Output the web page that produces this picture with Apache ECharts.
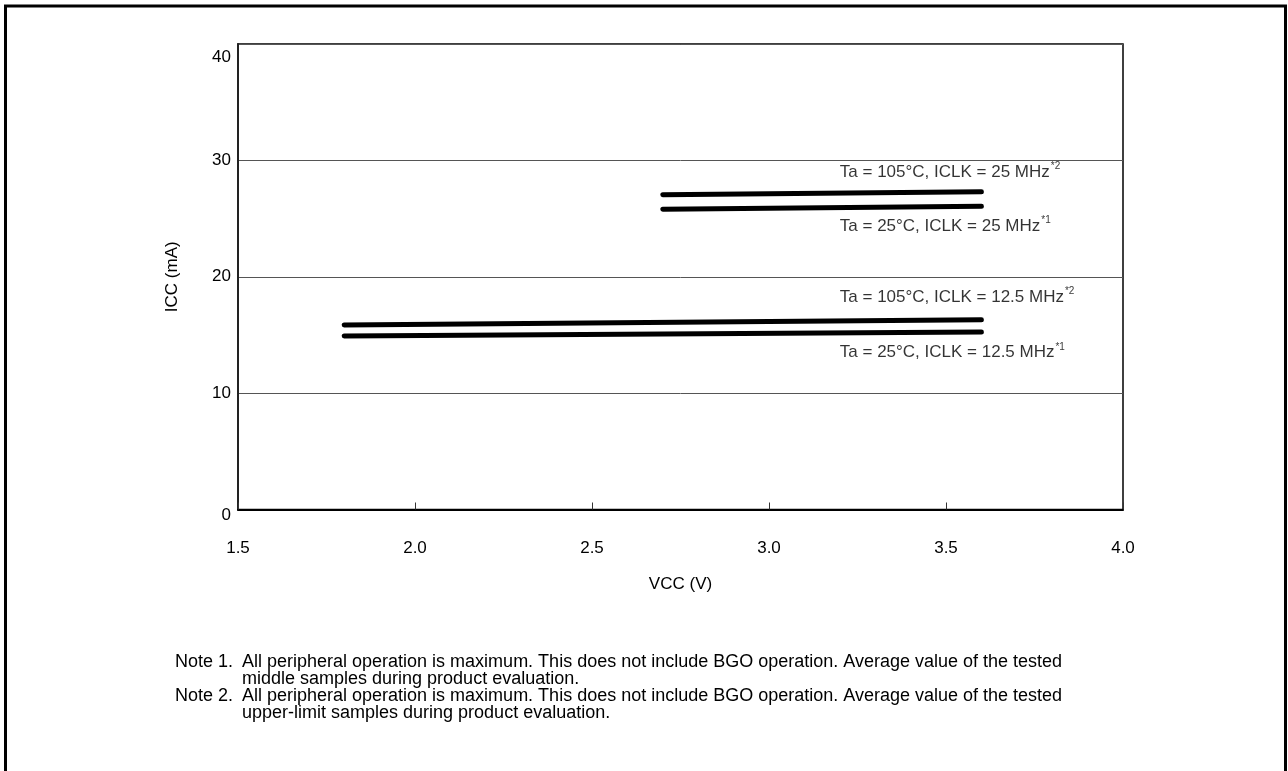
<!DOCTYPE html>
<html>
<head>
<meta charset="utf-8">
<script src="https://cdn.jsdelivr.net/npm/echarts@6/dist/echarts.min.js"></script>
<style>
html,body{margin:0;padding:0;background:#fff;}
#chart{width:1288px;height:771px;}
</style>
</head>
<body>
<div id="chart"></div>
<script>
// Data
const xTicks = [1.5, 2.0, 2.5, 3.0, 3.5, 4.0];
const yTicks = [0, 10, 20, 30, 40];
const seriesNames = [
  'Ta = 105°C, ICLK = 25 MHz',
  'Ta = 25°C, ICLK = 25 MHz',
  'Ta = 105°C, ICLK = 12.5 MHz',
  'Ta = 25°C, ICLK = 12.5 MHz'
];
const noteMarks = ['*2', '*1', '*2', '*1'];
const vcc25 = [2.7, 3.6];
const vcc125 = [1.8, 3.6];
const icc105_25 = [27.05, 27.3];
const icc25_25 = [25.8, 26.05];
const icc105_125 = [15.85, 16.3];
const icc25_125 = [14.9, 15.25];
const labelX = [3.2, 3.2, 3.2, 3.2];
const labelY = [29.0, 24.35, 18.25, 13.5];
const notes = [
  ['Note 1.', 'All peripheral operation is maximum. This does not include BGO operation. Average value of the tested'],
  ['', 'middle samples during product evaluation.'],
  ['Note 2.', 'All peripheral operation is maximum. This does not include BGO operation. Average value of the tested'],
  ['', 'upper-limit samples during product evaluation.']
];

const FONT = '"Liberation Sans", Arial, Helvetica, sans-serif';
const chart = echarts.init(document.getElementById('chart'), null, {renderer: 'canvas'});

function pairs(xs, ys) { return xs.map((x, i) => [x, ys[i]]); }
const lineData = [
  pairs(vcc25, icc105_25),
  pairs(vcc25, icc25_25),
  pairs(vcc125, icc105_125),
  pairs(vcc125, icc25_125)
];

const series = lineData.map((d, i) => ({
  name: seriesNames[i],
  type: 'line',
  data: d,
  symbol: 'none',
  silent: true,
  lineStyle: {color: '#000', width: 5, cap: 'round'},
  z: 3
}));

series.push({
  type: 'scatter',
  symbolSize: 0,
  silent: true,
  itemStyle: {color: '#000'},
  data: labelX.map((x, i) => ({value: [x, labelY[i]], name: seriesNames[i], mark: noteMarks[i]})),
  label: {
    show: true,
    position: 'right',
    distance: 0,
    formatter: p => p.data.name + '{sup|' + p.data.mark + '}',
    fontFamily: FONT,
    fontSize: 17,
    color: '#000',
    textBorderWidth: 0,
    rich: {
      sup: {fontSize: 10, fontFamily: FONT, color: '#000', verticalAlign: 'bottom', padding: [0, 0, 11, 1]}
    }
  }
});

const graphics = [{
  type: 'rect',
  shape: {x: 5.5, y: 6, width: 1280, height: 820},
  style: {fill: null, stroke: '#000', lineWidth: 3},
  silent: true
}];
const noteLineY = [661, 678, 695, 712];
notes.forEach((n, i) => {
  if (n[0]) graphics.push({type: 'text', left: 175, top: noteLineY[i] - 8, style: {text: n[0], font: '18px ' + FONT, fill: '#000'}});
  graphics.push({type: 'text', left: 242, top: noteLineY[i] - 8, style: {text: n[1], font: '18px ' + FONT, fill: '#000'}});
});

chart.setOption({
  animation: false,
  backgroundColor: '#fff',
  grid: {left: 238, top: 44, right: 165, bottom: 261.5, show: true, borderColor: '#000', borderWidth: 1.5, backgroundColor: 'transparent'},
  xAxis: {
    type: 'value',
    min: 1.5, max: 4.0, interval: 0.5,
    name: 'VCC (V)',
    nameLocation: 'middle',
    nameGap: 66,
    nameTextStyle: {fontFamily: FONT, fontSize: 17, color: '#000'},
    axisLine: {show: true, lineStyle: {color: '#000', width: 2}},
    axisTick: {show: true, inside: true, length: 7, lineStyle: {color: '#333', width: 1}},
    splitLine: {show: false},
    axisLabel: {margin: 30, fontFamily: FONT, fontSize: 17, color: '#000', formatter: v => v.toFixed(1)}
  },
  yAxis: {
    type: 'value',
    min: 0, max: 40, interval: 10,
    name: 'ICC (mA)',
    nameLocation: 'middle',
    nameGap: 57,
    nameRotate: 90,
    nameTextStyle: {fontFamily: FONT, fontSize: 17, color: '#000'},
    axisLine: {show: true, lineStyle: {color: '#222', width: 2}},
    axisTick: {show: false},
    splitLine: {show: true, lineStyle: {color: '#555', width: 1}},
    axisLabel: {
      margin: 7, fontFamily: FONT, fontSize: 17, color: '#000', verticalAlign: 'middle',
      formatter: v => v === 40 ? '{t|' + v + '}' : (v === 0 ? '{b|' + v + '}' : '{n|' + v + '}'),
      rich: {
        t: {fontFamily: FONT, fontSize: 17, color: '#000', padding: [26, 0, 0, 0]},
        b: {fontFamily: FONT, fontSize: 17, color: '#000', padding: [12, 0, 0, 0]},
        n: {fontFamily: FONT, fontSize: 17, color: '#000'}
      }
    }
  },
  graphic: graphics,
  series: series
});
</script>
</body>
</html>
